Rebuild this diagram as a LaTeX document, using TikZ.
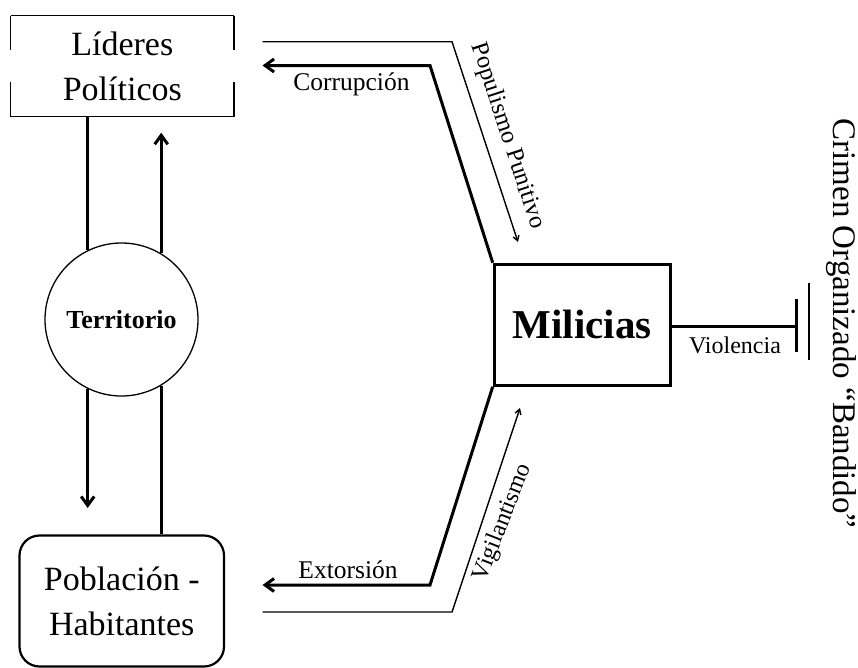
\documentclass[tikz,border=0pt]{standalone}
\usepackage{fontspec}
\setmainfont{Liberation Serif}
\usetikzlibrary{arrows.meta,calc}
\begin{document}
\begin{tikzpicture}[x=1pt,y=-1pt,
  big/.style={font=\fontsize{34}{45}\selectfont, align=center},
  lbl/.style={font=\fontsize{25.5}{30}\selectfont, inner sep=0pt},
  thickln/.style={line width=3pt},
  thinln/.style={line width=1.4pt},
  bigtip/.style={-{Straight Barb[length=9pt,width=13pt]}},
  smalltip/.style={-{Straight Barb[length=5pt,width=6pt]}},
  line join=miter]
\useasboundingbox (0,0) rectangle (858,667);
% nodes
\node[big, minimum width=223.3pt, minimum height=101pt, inner sep=0pt, outer sep=0pt] (lid) at (122.3,66.2) {Líderes\\Políticos};
\node[draw, circle, line width=1.3pt, minimum size=153pt, inner sep=0pt, font=\bfseries\fontsize{26}{30}\selectfont] (terr) at (121.5,319.5) {Territorio};
\node[big, draw, line width=2.2pt, rounded corners=20pt, minimum width=204.5pt, minimum height=131pt, inner sep=0pt] (pob) at (121.75,601) {Población -\\Habitantes};
\node[draw, line width=3pt, minimum width=176pt, minimum height=121pt, inner sep=0pt, font=\bfseries\fontsize{41}{48}\selectfont] (mil) at (582.2,324.7) {Milicias};
% Lideres box with gaps
\draw[line width=1.5pt] (lid.north west) -- (lid.north east);
\draw[line width=1.5pt] (lid.south west) -- (lid.south east);
\draw[line width=1.5pt] (lid.north west) -- ++(0,34.3);
\draw[line width=1.5pt] (lid.south west) -- ++(0,-34.7);
\draw[line width=1.5pt] (lid.north east) -- ++(0,34.3);
\draw[line width=1.5pt] (lid.south east) -- ++(0,-34.7);
% vertical connectors
\coordinate (tipU) at (160.5,132.7);
\coordinate (tipD) at (87.5,508);
\draw[thickln] (lid.south -| terr.116.4) -- (terr.116.4);
\draw[thickln,bigtip] (terr.59.3) -- (terr.59.3 |- tipU);
\draw[thickln,bigtip] (terr.-116.4) -- (terr.-116.4 |- tipD);
\draw[thickln] (pob.north -| terr.-59.3) -- (terr.-59.3);
% Corrupcion
\coordinate (cC) at (430,65.5);
\coordinate (cCt) at (262.5,65.5);
\draw[thickln,bigtip] (mil.north west) -- (cC) -- (cCt);
\node[lbl, anchor=base] (tCor) at (351.5,90) {Corrupción};
% Populismo Punitivo
\coordinate (pP0) at (262.5,41.7);
\coordinate (pP1) at (452,41.7);
\coordinate (pP2) at (518,242);
\draw[thinln,smalltip] (pP0) -- (pP1) -- (pP2);
\node[lbl, font=\fontsize{24.5}{30}\selectfont, rotate=-72] (tPop) at (507.5,136) {Populismo Punitivo};
% Extorsion
\coordinate (cE) at (430,585);
\coordinate (cEt) at (262.5,585);
\draw[thickln,bigtip] (mil.south west) -- (cE) -- (cEt);
\node[lbl, anchor=base] (tExt) at (348,578) {Extorsión};
% Vigilantismo
\coordinate (vV0) at (262.5,612);
\coordinate (vV1) at (452,612);
\coordinate (vV2) at (520,408);
\draw[thinln,smalltip] (vV0) -- (vV1) -- (vV2);
\node[lbl, font=\fontsize{24}{30}\selectfont, rotate=68.6] (tVig) at (503,522.5) {Vigilantismo};
% Violencia
\coordinate (bar1) at (796,326);
\draw[thickln] (mil.east |- bar1) -- (bar1);
\draw[thickln] ($(bar1)+(0,-27)$) -- ($(bar1)+(0,26)$);
\coordinate (bar2) at (809,322);
\draw[line width=2pt] ($(bar2)+(0,-39)$) -- ($(bar2)+(0,38)$);
\node[lbl, font=\fontsize{24}{30}\selectfont, anchor=base] (tVio) at (735,353) {Violencia};
% Crimen Organizado
\node[font=\fontsize{33}{40}\selectfont, inner sep=0pt, anchor=base, rotate=-90] (crim) at (833,323.5) {Crimen Organizado “Bandido”};
\end{tikzpicture}
\end{document}
